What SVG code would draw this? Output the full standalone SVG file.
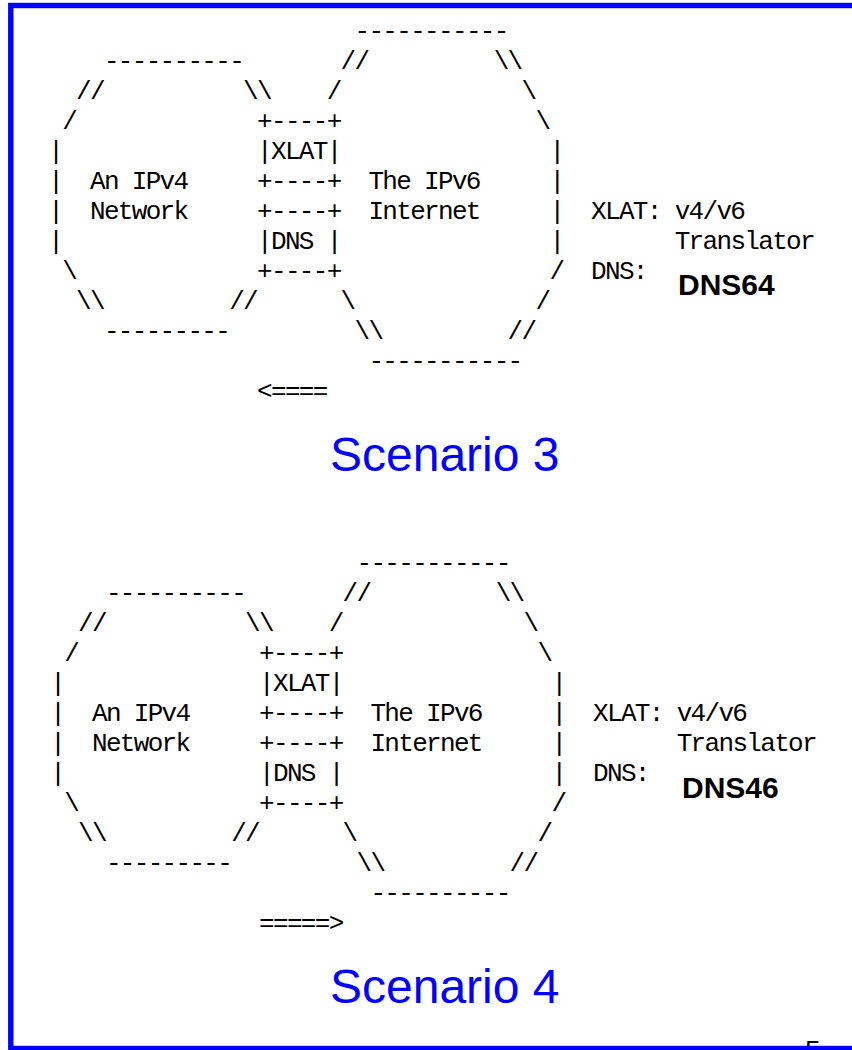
<svg xmlns="http://www.w3.org/2000/svg" width="852" height="1050" viewBox="0 0 852 1050">
<style>
.m{font-family:"Liberation Mono","DejaVu Sans Mono",monospace;font-size:26px;letter-spacing:-1.68px;fill:#000}
.b{font-family:"Liberation Sans",Arial,sans-serif;font-size:30px;font-weight:bold;fill:#000}
.t{font-family:"Liberation Sans",Arial,sans-serif;font-size:48px;fill:#0000FF}
.pg{font-family:"Liberation Sans",Arial,sans-serif;font-size:28px;fill:#000}
.frame{fill:none;stroke:#0000FF;stroke-width:5.4}
</style>
<rect width="852" height="1050" fill="#FFFFFF"/>
<g id="page-number"><text class="pg" x="805" y="1060">5</text></g>
<g id="frame"><rect class="frame" x="10.8" y="5.5" width="900" height="1043"/></g>

<g id="scenario3">
  <g id="s3-ipv4">
    <text class="m" x="103.9" y="69">----------</text>
    <text class="m" x="76.1" y="99">//</text>
    <text class="m" x="243.1" y="99">\\</text>
    <text class="m" x="62.2" y="129">/</text>
    <text class="m" x="48.3" y="159">|</text>
    <text class="m" x="48.3" y="189">|</text>
    <text class="m" x="90" y="189">An IPv4</text>
    <text class="m" x="48.3" y="219">|</text>
    <text class="m" x="90" y="219">Network</text>
    <text class="m" x="48.3" y="249">|</text>
    <text class="m" x="62.2" y="279">\</text>
    <text class="m" x="76.1" y="309">\\</text>
    <text class="m" x="229.2" y="309">//</text>
    <text class="m" x="103.9" y="339">---------</text>
  </g>
  <g id="s3-xlat">
    <text class="m" x="257.1" y="129">+----+</text>
    <text class="m" x="257.1" y="159">|XLAT|</text>
    <text class="m" x="257.1" y="189">+----+</text>
    <text class="m" x="257.1" y="219">+----+</text>
    <text class="m" x="257.1" y="249">|DNS |</text>
    <text class="m" x="257.1" y="279">+----+</text>
  </g>
  <g id="s3-ipv6">
    <text class="m" x="354.5" y="39">-----------</text>
    <text class="m" x="340.6" y="69">//</text>
    <text class="m" x="493.7" y="69">\\</text>
    <text class="m" x="326.7" y="99">/</text>
    <text class="m" x="521.5" y="99">\</text>
    <text class="m" x="535.5" y="129">\</text>
    <text class="m" x="549.4" y="159">|</text>
    <text class="m" x="368.4" y="189">The IPv6</text>
    <text class="m" x="549.4" y="189">|</text>
    <text class="m" x="368.4" y="219">Internet</text>
    <text class="m" x="549.4" y="219">|</text>
    <text class="m" x="549.4" y="249">|</text>
    <text class="m" x="549.4" y="279">/</text>
    <text class="m" x="340.6" y="309">\</text>
    <text class="m" x="535.5" y="309">/</text>
    <text class="m" x="354.5" y="339">\\</text>
    <text class="m" x="507.6" y="339">//</text>
    <text class="m" x="368.4" y="369">-----------</text>
  </g>
  <g id="s3-legend">
    <text class="m" x="591.1" y="219">XLAT: v4/v6</text>
    <text class="m" x="674.7" y="249">Translator</text>
    <text class="m" x="591.1" y="279">DNS:</text>
    <text class="b" x="678" y="295">DNS64</text>
  </g>
  <g id="s3-title"><text class="t" x="330" y="471">Scenario 3</text></g>
</g>

<g id="scenario4" transform="translate(2,532)">
  <g id="s4-ipv4">
    <text class="m" x="103.9" y="69">----------</text>
    <text class="m" x="76.1" y="99">//</text>
    <text class="m" x="243.1" y="99">\\</text>
    <text class="m" x="62.2" y="129">/</text>
    <text class="m" x="48.3" y="159">|</text>
    <text class="m" x="48.3" y="189">|</text>
    <text class="m" x="90" y="189">An IPv4</text>
    <text class="m" x="48.3" y="219">|</text>
    <text class="m" x="90" y="219">Network</text>
    <text class="m" x="48.3" y="249">|</text>
    <text class="m" x="62.2" y="279">\</text>
    <text class="m" x="76.1" y="309">\\</text>
    <text class="m" x="229.2" y="309">//</text>
    <text class="m" x="103.9" y="339">---------</text>
  </g>
  <g id="s4-xlat">
    <text class="m" x="257.1" y="129">+----+</text>
    <text class="m" x="257.1" y="159">|XLAT|</text>
    <text class="m" x="257.1" y="189">+----+</text>
    <text class="m" x="257.1" y="219">+----+</text>
    <text class="m" x="257.1" y="249">|DNS |</text>
    <text class="m" x="257.1" y="279">+----+</text>
  </g>
  <g id="s4-ipv6">
    <text class="m" x="354.5" y="39">-----------</text>
    <text class="m" x="340.6" y="69">//</text>
    <text class="m" x="493.7" y="69">\\</text>
    <text class="m" x="326.7" y="99">/</text>
    <text class="m" x="521.5" y="99">\</text>
    <text class="m" x="535.5" y="129">\</text>
    <text class="m" x="549.4" y="159">|</text>
    <text class="m" x="368.4" y="189">The IPv6</text>
    <text class="m" x="549.4" y="189">|</text>
    <text class="m" x="368.4" y="219">Internet</text>
    <text class="m" x="549.4" y="219">|</text>
    <text class="m" x="549.4" y="249">|</text>
    <text class="m" x="549.4" y="279">/</text>
    <text class="m" x="340.6" y="309">\</text>
    <text class="m" x="535.5" y="309">/</text>
    <text class="m" x="354.5" y="339">\\</text>
    <text class="m" x="507.6" y="339">//</text>
    <text class="m" x="368.4" y="369">----------</text>
  </g>
  <g id="s4-legend">
    <text class="m" x="591.1" y="189">XLAT: v4/v6</text>
    <text class="m" x="674.7" y="219">Translator</text>
    <text class="m" x="591.1" y="249">DNS:</text>
    <text class="b" x="680" y="266">DNS46</text>
  </g>
  <g id="s4-title"><text class="t" x="328" y="471">Scenario 4</text></g>
</g>

<g id="connectors">
  <text class="m" x="257.1" y="399">&lt;====</text>
  <text class="m" x="259.1" y="931">=====&gt;</text>
</g>
</svg>
